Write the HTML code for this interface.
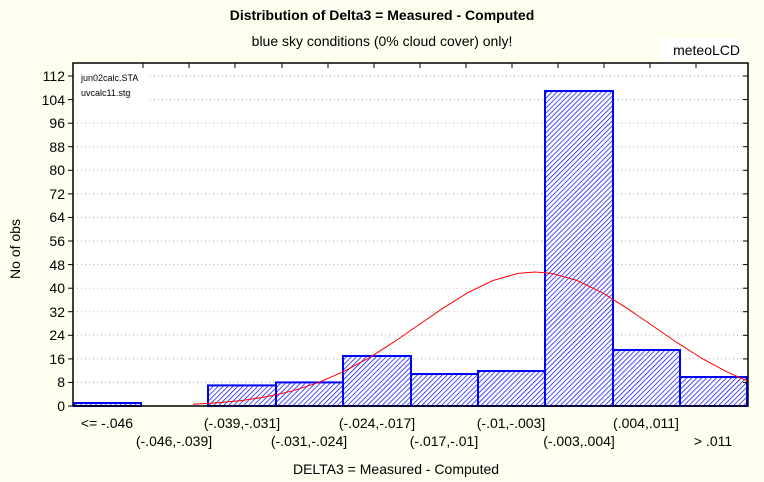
<!DOCTYPE html>
<html><head><meta charset="utf-8"><style>
html,body{margin:0;padding:0;background:#fffff0;}
svg{display:block;font-family:"Liberation Sans",Arial,sans-serif;}
</style></head><body>
<svg width="764" height="482" viewBox="0 0 764 482" xmlns="http://www.w3.org/2000/svg">
<defs>
<pattern id="h" width="3.5" height="3.5" patternUnits="userSpaceOnUse" patternTransform="rotate(45)">
<rect width="3.5" height="3.5" fill="#fff"/>
<line x1="0" y1="0" x2="0" y2="3.5" stroke="#0000ff" stroke-width="1.4"/>
</pattern>
</defs>
<rect width="764" height="482" fill="#fffff0"/>
<text x="382" y="20" text-anchor="middle" font-size="14" font-weight="bold">Distribution of Delta3 = Measured - Computed</text>
<text x="382" y="46" text-anchor="middle" font-size="14">blue sky conditions (0% cloud cover) only!</text>
<rect x="660" y="38" width="82" height="22" fill="#fff"/>
<text x="740" y="55" text-anchor="end" font-size="14">meteoLCD</text>
<rect x="73" y="63" width="675" height="343" fill="#fff"/>
<g stroke="#b0b0b0" stroke-dasharray="1,3" stroke-width="1">
<line x1="73" x2="748" y1="382.4" y2="382.4"/><line x1="73" x2="748" y1="358.9" y2="358.9"/>
<line x1="73" x2="748" y1="335.3" y2="335.3"/><line x1="73" x2="748" y1="311.7" y2="311.7"/>
<line x1="73" x2="748" y1="288.2" y2="288.2"/><line x1="73" x2="748" y1="264.6" y2="264.6"/>
<line x1="73" x2="748" y1="241" y2="241"/><line x1="73" x2="748" y1="217.4" y2="217.4"/>
<line x1="73" x2="748" y1="193.9" y2="193.9"/><line x1="73" x2="748" y1="170.3" y2="170.3"/>
<line x1="73" x2="748" y1="146.7" y2="146.7"/><line x1="73" x2="748" y1="123.2" y2="123.2"/>
<line x1="150" x2="748" y1="99.6" y2="99.6"/><line x1="150" x2="748" y1="76" y2="76"/>
</g>
<g stroke="#0000ff" stroke-width="2" fill="url(#h)">
<rect x="74" y="403" width="67" height="3"/>
<rect x="208" y="385.4" width="68" height="20.6"/>
<rect x="276" y="382.4" width="67" height="23.6"/>
<rect x="343" y="356" width="68" height="50"/>
<rect x="411" y="374" width="67" height="32"/>
<rect x="478" y="371" width="67" height="35"/>
<rect x="545" y="91" width="68" height="315"/>
<rect x="613" y="350" width="67" height="56"/>
<rect x="680" y="377" width="67" height="29"/>
</g>
<polyline fill="none" stroke="#ff0000" stroke-width="1" points="193,404.3 218,402.8 243,400.4 268,396.5 293,390.8 318,382.7 343,371.9 368,358.5 393,342.6 418,325.4 443,308.2 468,292.6 493,280.5 518,273.4 535,272 552,273.4 577,280.5 602,292.6 627,308.2 652,325.4 677,342.6 702,358.5 727,371.9 748,381.2"/>
<rect x="73" y="63" width="675" height="343" fill="none" stroke="#000" stroke-width="1.5"/>
<g stroke="#000">
<line x1="68" x2="73" y1="406" y2="406"/><line x1="68" x2="73" y1="382.4" y2="382.4"/><line x1="68" x2="73" y1="358.9" y2="358.9"/><line x1="68" x2="73" y1="335.3" y2="335.3"/><line x1="68" x2="73" y1="311.7" y2="311.7"/><line x1="68" x2="73" y1="288.2" y2="288.2"/><line x1="68" x2="73" y1="264.6" y2="264.6"/><line x1="68" x2="73" y1="241" y2="241"/><line x1="68" x2="73" y1="217.4" y2="217.4"/><line x1="68" x2="73" y1="193.9" y2="193.9"/><line x1="68" x2="73" y1="170.3" y2="170.3"/><line x1="68" x2="73" y1="146.7" y2="146.7"/><line x1="68" x2="73" y1="123.2" y2="123.2"/><line x1="68" x2="73" y1="99.6" y2="99.6"/><line x1="68" x2="73" y1="76" y2="76"/>
<g stroke-width="1"><line x1="143" x2="143" y1="63" y2="68"/><line x1="189" x2="189" y1="63" y2="68"/><line x1="235" x2="235" y1="63" y2="68"/><line x1="282" x2="282" y1="63" y2="68"/><line x1="328" x2="328" y1="63" y2="68"/><line x1="374" x2="374" y1="63" y2="68"/><line x1="420" x2="420" y1="63" y2="68"/><line x1="466" x2="466" y1="63" y2="68"/><line x1="512" x2="512" y1="63" y2="68"/><line x1="558" x2="558" y1="63" y2="68"/><line x1="604" x2="604" y1="63" y2="68"/><line x1="650" x2="650" y1="63" y2="68"/><line x1="696" x2="696" y1="63" y2="68"/></g>
<g stroke-width="1"><line x1="743" x2="748" y1="382.4" y2="382.4"/><line x1="743" x2="748" y1="358.9" y2="358.9"/><line x1="743" x2="748" y1="335.3" y2="335.3"/><line x1="743" x2="748" y1="311.7" y2="311.7"/><line x1="743" x2="748" y1="288.2" y2="288.2"/><line x1="743" x2="748" y1="264.6" y2="264.6"/><line x1="743" x2="748" y1="241" y2="241"/><line x1="743" x2="748" y1="217.4" y2="217.4"/><line x1="743" x2="748" y1="193.9" y2="193.9"/><line x1="743" x2="748" y1="170.3" y2="170.3"/><line x1="743" x2="748" y1="146.7" y2="146.7"/><line x1="743" x2="748" y1="123.2" y2="123.2"/><line x1="743" x2="748" y1="99.6" y2="99.6"/><line x1="743" x2="748" y1="76" y2="76"/></g>
</g>
<g font-size="14" text-anchor="end">
<text x="65" y="411">0</text><text x="65" y="387">8</text><text x="65" y="364">16</text><text x="65" y="340">24</text><text x="65" y="317">32</text><text x="65" y="293">40</text><text x="65" y="270">48</text><text x="65" y="246">56</text><text x="65" y="222">64</text><text x="65" y="199">72</text><text x="65" y="175">80</text><text x="65" y="152">88</text><text x="65" y="128">96</text><text x="65" y="105">104</text><text x="65" y="81">112</text>
</g>
<text x="81" y="81" font-size="9">jun02calc.STA</text>
<text x="81" y="96" font-size="9">uvcalc11.stg</text>
<text transform="translate(20,249) rotate(-90)" text-anchor="middle" font-size="14">No of obs</text>
<g font-size="14" text-anchor="middle">
<text x="107" y="428">&lt;= -.046</text>
<text x="242" y="428">(-.039,-.031]</text>
<text x="377" y="428">(-.024,-.017]</text>
<text x="511" y="428">(-.01,-.003]</text>
<text x="646" y="428">(.004,.011]</text>
<text x="174" y="446">(-.046,-.039]</text>
<text x="309" y="446">(-.031,-.024]</text>
<text x="444" y="446">(-.017,-.01]</text>
<text x="579" y="446">(-.003,.004]</text>
<text x="713" y="446">&gt; .011</text>
<text x="396" y="474">DELTA3 = Measured - Computed</text>
</g>
</svg>
</body></html>
